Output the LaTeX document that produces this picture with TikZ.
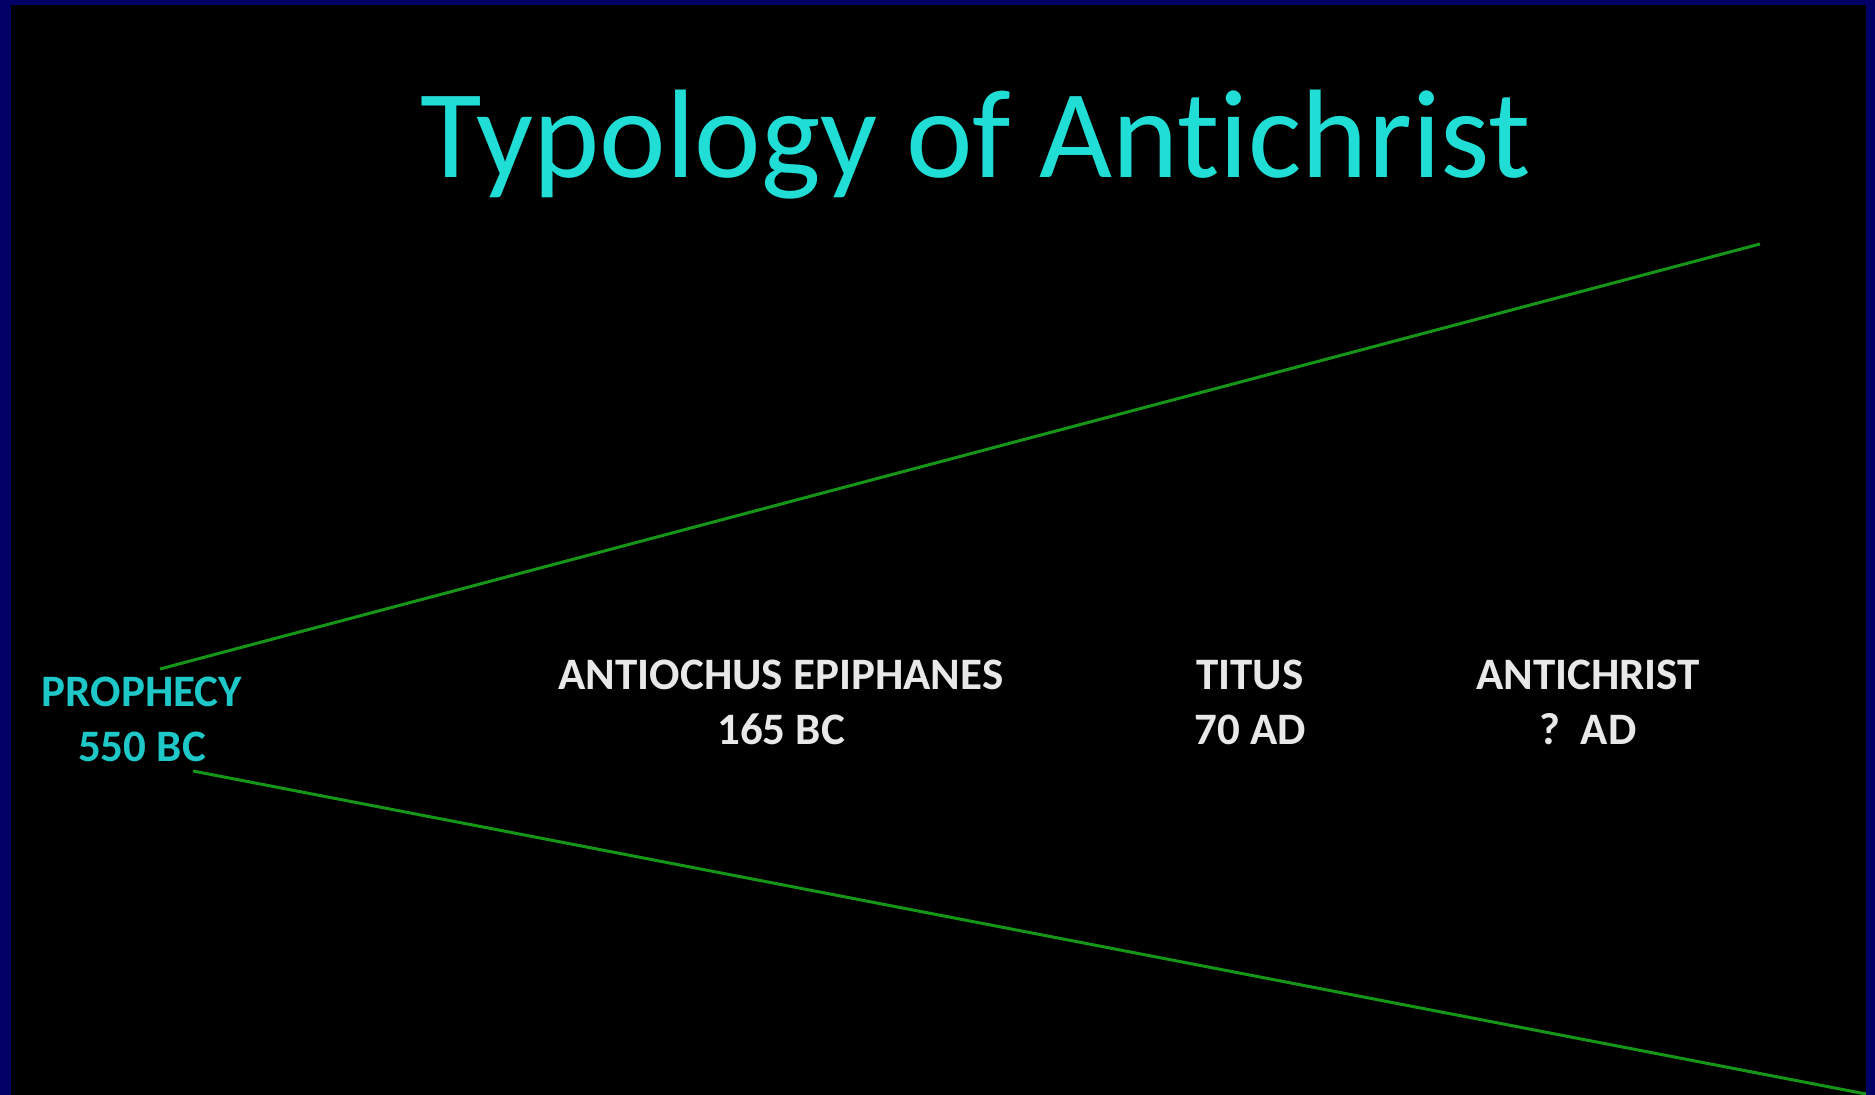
\documentclass[tikz,border=0pt]{standalone}
\usepackage{fontspec}
\setmainfont{Carlito}[Ligatures=NoCommon]
\definecolor{frameblue}{RGB}{2,0,102}
\definecolor{titlecyan}{RGB}{32,222,214}
\definecolor{labelcyan}{RGB}{30,200,200}
\definecolor{labelgray}{RGB}{232,232,232}
\definecolor{conegreen}{RGB}{22,150,22}
\begin{document}
\begin{tikzpicture}[x=1pt, y=-1pt,
  era/.style={inner sep=0pt, align=center, font=\fontsize{45}{55}\selectfont\bfseries, text=labelgray},
  cone/.style={conegreen, line width=3pt}]
\useasboundingbox (0,0) rectangle (1875,1095);
% Rahmen
\fill[frameblue] (0,0) rectangle (1875,1095);
\fill[black] (11,5) rectangle (1866,1095);
% Titel
\node[anchor=base, inner sep=0pt, text=titlecyan, font=\fontsize{126}{130}\selectfont] (title) at (976,177) {Typology of Antichrist};
% Zeitpunkte
\node[era, text=labelcyan] (prophecy) at (142,719.5) {PROPHECY\\550 BC};
\node[era] (antiochus) at (781,702) {ANTIOCHUS EPIPHANES\\165 BC};
\node[era] (titus) at (1250,702) {TITUS\\70 AD};
\node[era] (antichrist) at (1588,702) {ANTICHRIST\\?\ \ AD};
% Kegel
\coordinate (upstart) at (160,669); \coordinate (upend) at (1760,244);
\coordinate (lowstart) at (193,771); \coordinate (lowend) at (1866,1094);
\draw[cone] (upstart) -- (upend);
\draw[cone] (lowstart) -- (lowend);
\end{tikzpicture}
\end{document}
